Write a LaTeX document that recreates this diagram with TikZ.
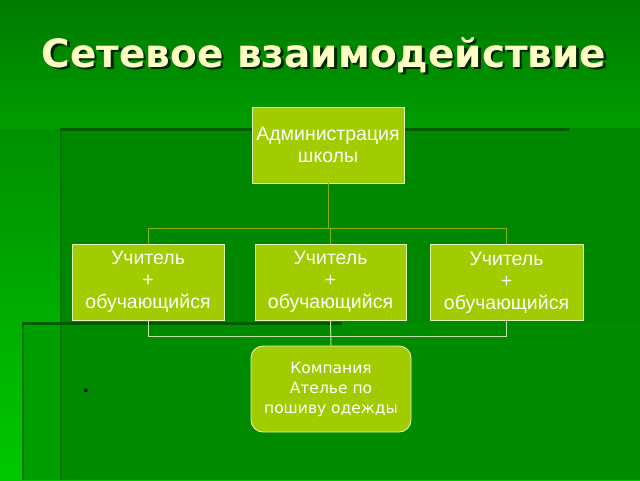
\documentclass[tikz,border=0pt]{standalone}
\usepackage{fontspec}
\setmainfont{Liberation Sans}
\newfontfamily\titlefont{DejaVu Sans}
\newfontfamily\compfont{DejaVu Sans}
\definecolor{bgtop}{HTML}{007A00}
\definecolor{bgbot}{HTML}{00C800}
\definecolor{panelA}{HTML}{008700}
\definecolor{panelB}{HTML}{008B00}
\definecolor{panelBleft}{HTML}{009E00}
\definecolor{shadowdark}{HTML}{005A00}
\definecolor{shadowmid}{HTML}{007400}
\definecolor{boxfill}{HTML}{A0CC00}
\definecolor{boxedge}{HTML}{E4F2BC}
\definecolor{lineA}{HTML}{88B400}
\definecolor{lineB}{HTML}{BEE2A8}
\definecolor{titlecol}{HTML}{FFFFC4}
\tikzset{
  orgbox/.style={draw=boxedge, line width=0.9pt, fill=boxfill, text=white,
    minimum width=152pt, minimum height=76pt, inner sep=0pt, align=center,
    font=\fontsize{19.5}{22}\selectfont},
  compbox/.style={draw=boxedge, line width=0.9pt, fill=boxfill, text=white,
    rounded corners=12pt, minimum width=160pt, minimum height=86pt, inner sep=0pt,
    align=center, font=\compfont\fontsize{15.5}{20}\selectfont},
  upline/.style={draw=lineA, line width=0.9pt},
  downline/.style={draw=lineB, line width=1pt},
}
\newcommand{\shadowtext}[1]{\rlap{\kern2.5pt\raisebox{-2.5pt}{\color{black!85!green}#1}}#1}
\begin{document}
\begin{tikzpicture}[x=1pt,y=-1pt]
\useasboundingbox (0,0) rectangle (640,480);
% background
\shade[top color=bgtop, bottom color=bgbot] (0,0) rectangle (640,480);
\shade[top color=bgtop, bottom color=bgtop!55!bgbot] (0,0) rectangle (640,128);
\fill[panelA] (60,128) rectangle (640,480);
\fill[panelBleft] (22,322) rectangle (60,480);
\fill[panelB] (60,322) rectangle (640,480);
\fill[shadowmid] (60,128) rectangle (62,480);
\fill[shadowdark] (60,128) rectangle (570,131);
\fill[shadowmid] (22,322) rectangle (24,480);
\fill[shadowdark] (22,322) rectangle (342,325);
% title
\node (title) [font=\titlefont\bfseries\fontsize{39}{44}\selectfont, text=titlecol] at (324,56.5) {\shadowtext{Сетевое взаимодействие}};
% nodes
\node (admin) [orgbox] at (328,145) {Администрация\\школы};
\node (t1) [orgbox] at (148,282) {Учитель\\+\\обучающийся};
\node (t2) [orgbox, minimum width=151pt] at (330.5,282) {Учитель\\+\\обучающийся};
\node (t3) [orgbox, minimum width=153pt] at (506.5,282.5) {Учитель\\+\\обучающийся};
\node (comp) [compbox] at (331,389) {Компания\\Ателье по\\пошиву одежды};
\node (dot) [font=\bfseries\fontsize{22}{24}\selectfont, text=black, anchor=base] at (86,392) {.};
% connectors
\coordinate (busA) at (0,228);
\coordinate (busB) at (0,336);
\draw[upline] (admin.south) -- (admin.south |- busA) -| (t1.north);
\draw[upline] (admin.south |- busA) -| (t3.north);
\draw[upline] (t2.north |- busA) -- (t2.north);
\draw[downline] (t1.south) |- (t3.south |- busB) -- (t3.south);
\draw[downline] (t2.south) -- (comp.north);
\end{tikzpicture}
\end{document}
